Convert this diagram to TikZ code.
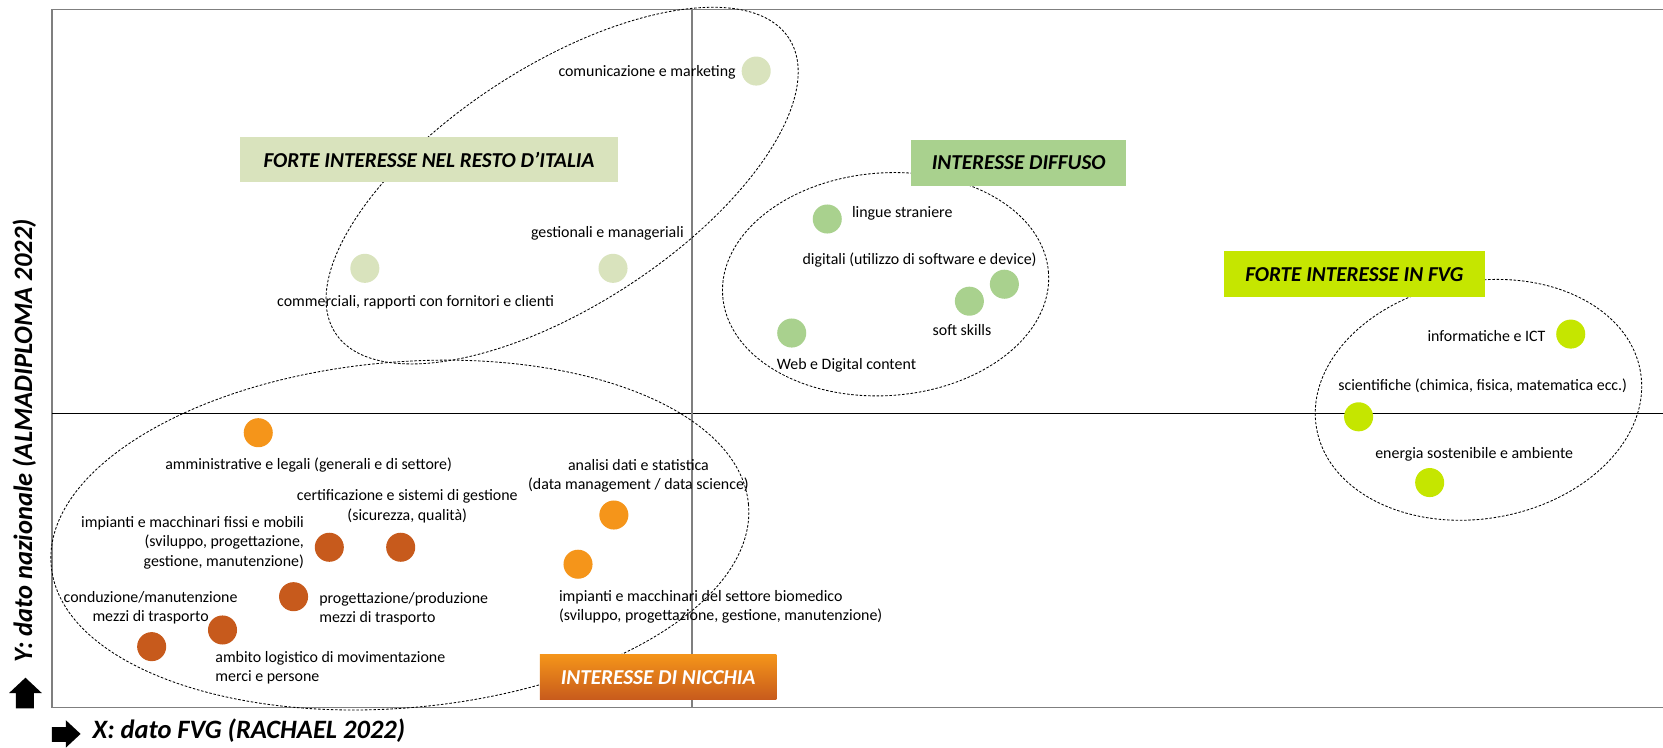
\documentclass[tikz,border=0pt]{standalone}
\usepackage{fontspec}
\setmainfont{Carlito}
\usepackage{xcolor}
\usepackage{tikz}
\usetikzlibrary{shapes.geometric}

\definecolor{restocol}{HTML}{D9E3BD}
\definecolor{diffcol}{HTML}{A9D18E}
\definecolor{fvgcol}{HTML}{C5E600}
\definecolor{nicchiacol}{HTML}{F5951A}
\definecolor{nicchiadark}{HTML}{C75A1C}
\definecolor{framecol}{HTML}{7F7F7F}

\begin{document}
\begin{tikzpicture}[
    x=0.5pt, y=-0.5pt,
    bubble/.style={circle, fill=#1, minimum size=13.7pt, inner sep=0pt},
    lbl/.style={inner sep=0pt, align=center, font=\fontsize{7.5}{9.15}\selectfont},
    group/.style={draw, ellipse, line width=0.4pt, dash pattern=on 1.2pt off 0.8pt, inner sep=0pt},
    title/.style={fill=#1, minimum height=21.5pt, inner sep=0pt, font=\fontsize{10}{12}\selectfont\bfseries\itshape},
    axislbl/.style={inner sep=0pt, font=\fontsize{12.5}{15}\selectfont\bfseries\itshape}
]
\useasboundingbox (0,0) rectangle (1568,705);

% Frame and axes
\draw[framecol, line width=0.75pt] (49,9) rectangle (1572,667);
\coordinate (xl) at (49,390);
\coordinate (xr) at (1568,390);
\coordinate (yt) at (652.5,9);
\coordinate (yb) at (652.5,667);
\draw[black, line width=0.5pt] (xl) -- (xr);
\draw[framecol, line width=0.75pt] (yt) -- (yb);

% Groups
\node[group, minimum width=255pt, minimum height=113pt, rotate=33] (restogrp) at (530,175) {};
\node[group, minimum width=154pt, minimum height=105pt, rotate=4] (diffgrp) at (835,268) {};
\node[group, minimum width=155pt, minimum height=112pt, rotate=10] (fvggrp) at (1394,377) {};
\node[group, minimum width=330pt, minimum height=163pt, rotate=5] (nicchiagrp) at (377,504.5) {};

% Boxes
\node[title=restocol, minimum width=178.5pt] (resto) at (404.5,150.5) {FORTE INTERESSE NEL RESTO D’ITALIA};
\node[title=diffcol, minimum width=101.5pt] (diffuso) at (960.5,153.5) {INTERESSE DIFFUSO};
\node[title=fvgcol, minimum width=123pt] (fvg) at (1277,258.5) {FORTE INTERESSE IN FVG};
\node[title=nicchiacol, minimum width=111.5pt, fill=none, top color=nicchiacol, bottom color=nicchiadark, text=white] (nicchia) at (620.5,638.5) {INTERESSE DI NICCHIA};

% Bubbles
\node[bubble=restocol] (comm) at (713,67) {};
\node[bubble=restocol] (gest) at (578,253) {};
\node[bubble=restocol] (commer) at (344,253) {};
\node[bubble=diffcol] (ling) at (780,206.5) {};
\node[bubble=diffcol] (digi) at (947,268) {};
\node[bubble=diffcol] (soft) at (914,284) {};
\node[bubble=diffcol] (web) at (746.5,314) {};
\node[bubble=fvgcol] (info) at (1481,315) {};
\node[bubble=fvgcol] (sci) at (1281,393) {};
\node[bubble=fvgcol] (energ) at (1348,455) {};
\node[bubble=nicchiacol] (amm) at (243.5,408) {};
\node[bubble=nicchiacol] (ana) at (578.8,485.6) {};
\node[bubble=nicchiacol] (bio) at (545,532) {};
\node[bubble=nicchiadark] (impf) at (310.5,516) {};
\node[bubble=nicchiadark] (cert) at (377.8,516) {};
\node[bubble=nicchiadark] (prog) at (276.8,562.6) {};
\node[bubble=nicchiadark] (amb) at (209.8,594) {};
\node[bubble=nicchiadark] (cond) at (143,609.7) {};

% Labels
\node[lbl, anchor=mid east] (comml) at (694,67) {comunicazione e marketing};
\node[lbl, anchor=mid east] (gestl) at (645,219) {gestionali e manageriali};
\node[lbl, anchor=mid west] (commerl) at (261,284.5) {commerciali, rapporti con fornitori e clienti};
\node[lbl, anchor=mid west] (lingl) at (803,200) {lingue straniere};
\node[lbl, anchor=mid] (digil) at (867,244.6) {digitali (utilizzo di software e device)};
\node[lbl, anchor=mid] (softl) at (907,312) {soft skills};
\node[lbl, anchor=mid west] (webl) at (732,344) {Web e Digital content};
\node[lbl, anchor=mid east] (infol) at (1457.5,317) {informatiche e ICT};
\node[lbl, anchor=mid] (scil) at (1398,363) {scientifiche (chimica, fisica, matematica ecc.)};
\node[lbl, anchor=mid] (energl) at (1390,428) {energia sostenibile e ambiente};
\node[lbl, anchor=mid] (amml) at (291,437.7) {amministrative e legali (generali e di settore)};
\node[lbl] (certl) at (384,477.5) {certificazione e sistemi di gestione\\(sicurezza, qualità)};
\node[lbl, align=right, anchor=east] (impfl) at (287,511.6) {impianti e macchinari fissi e mobili\\(sviluppo, progettazione,\\gestione, manutenzione)};
\node[lbl] (condl) at (142,573) {conduzione/manutenzione\\mezzi di trasporto};
\node[lbl, align=left, anchor=west] (progl) at (300.7,574) {progettazione/produzione\\mezzi di trasporto};
\node[lbl, align=left, anchor=west] (ambl) at (202.7,629.6) {ambito logistico di movimentazione\\merci e persone};
\node[lbl] (anal) at (602,448.5) {analisi dati e statistica\\(data management / data science)};
\node[lbl, align=left, anchor=west] (biol) at (526.7,572) {impianti e macchinari del settore biomedico\\(sviluppo, progettazione, gestione, manutenzione)};

% Axis titles
\fill (15,668) -- (15,653.5) -- (8.5,653.5) -- (24,639) -- (39.5,653.5) -- (32,653.5) -- (32,668) -- cycle;
\node[axislbl, rotate=90] (ylbl) at (23,415.5) {Y: dato nazionale (ALMADIPLOMA 2022)};
\fill (49,685.6) -- (62,685.6) -- (62,679) -- (76,692) -- (62,705) -- (62,699.6) -- (49,699.6) -- cycle;
\node[axislbl, anchor=mid west] (xlbl) at (87,692) {X: dato FVG (RACHAEL 2022)};

\end{tikzpicture}
\end{document}
